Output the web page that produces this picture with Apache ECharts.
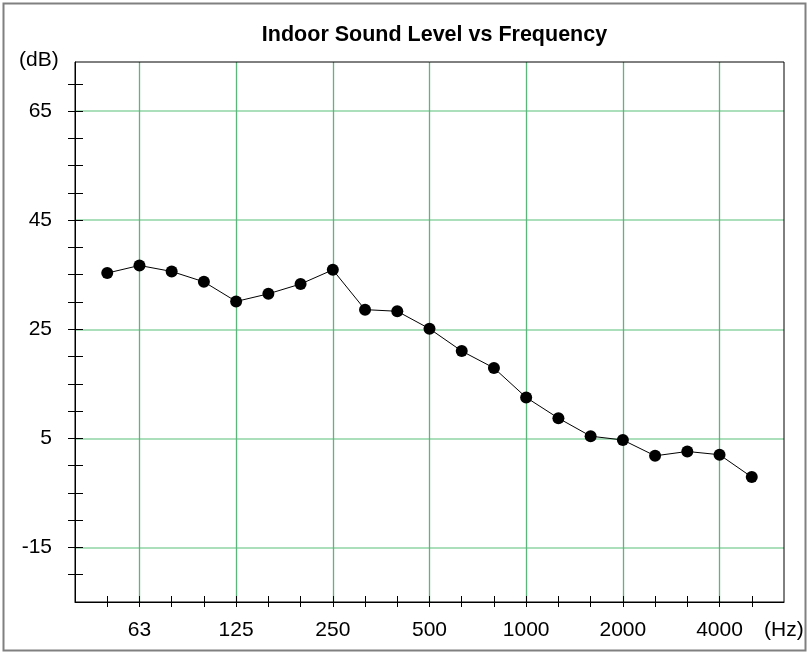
<!DOCTYPE html>
<html>
<head>
<meta charset="utf-8">
<script src="https://cdn.jsdelivr.net/npm/echarts@6/dist/echarts.min.js"></script>
<style>
  html, body { margin: 0; padding: 0; background: #fff; }
  #chart { width: 810px; height: 654px; }
</style>
</head>
<body>
<div id="chart"></div>
<script>
// One-third octave band centre frequencies (Hz)
const bands = ['50', '63', '80', '100', '125', '160', '200', '250', '315', '400', '500',
               '630', '800', '1000', '1250', '1600', '2000', '2500', '3150', '4000', '5000'];
// Measured indoor level per band (dB)
const levels = [35.3, 36.7, 35.6, 33.7, 30.1, 31.5, 33.3, 35.9, 28.6, 28.3, 25.1,
                21.0, 17.9, 12.5, 8.7, 5.4, 4.7, 1.8, 2.6, 2.0, -2.1];
// Octave bands that carry a label and a vertical grid line (every third band)
const labelledBands = ['63', '125', '250', '500', '1000', '2000', '4000'];
// Level values that carry a label and a horizontal grid line
const levelTicks = [-15, 5, 25, 45, 65];

const plot = { left: 75, top: 62, right: 784, bottom: 602 };
const xMin = -1, xMax = bands.length;      // one band of padding either side
const yMin = -25, yMax = 74, yStep = 5;
const font = '"Liberation Sans", Arial, sans-serif';
const vGridColor = '#5ab77a';
const hGridColor = '#8fd3a5';

const bandIdx = bands.map((_, i) => i);
const labelIdx = labelledBands.map(b => bands.indexOf(b));
const yTickValues = [];
for (let v = yMin + yStep; v < yMax; v += yStep) yTickValues.push(v);
const points = levels.map((v, i) => [i, v]);

// Pixel helpers for the grid boxes that carry the green grid lines
const px = v => plot.left + (v - xMin) / (xMax - xMin) * (plot.right - plot.left);
const py = v => plot.top + (yMax - v) / (yMax - yMin) * (plot.bottom - plot.top);
const vFirst = labelIdx[0], vLast = labelIdx[labelIdx.length - 1];
const hFirst = levelTicks[0], hLast = levelTicks[levelTicks.length - 1];

const hidden = { show: false };
const tickStyle = { color: '#000', width: 1 };

const chart = echarts.init(document.getElementById('chart'), null, { renderer: 'canvas' });
chart.setOption({
  animation: false,
  backgroundColor: '#fff',
  title: {
    text: 'Indoor Sound Level vs Frequency',
    left: (plot.left + plot.right) / 2, top: 19, textAlign: 'center',
    textStyle: { fontFamily: font, fontSize: 21.5, fontWeight: 'bold', color: '#000' }
  },
  graphic: [
    { type: 'rect', shape: { x: 3.5, y: 3.5, width: 802, height: 647 },
      style: { fill: null, stroke: '#808080', lineWidth: 2 } },
    { type: 'text', left: 19, top: 50,
      style: { text: '(dB)', font: '21px ' + font, fill: '#000' } },
    { type: 'text', left: 764, top: 620,
      style: { text: '(Hz)', font: '21px ' + font, fill: '#000' } }
  ],
  grid: [
    // main plot
    { left: plot.left, top: plot.top, width: plot.right - plot.left, height: plot.bottom - plot.top,
      show: true, borderColor: '#000', borderWidth: 1, z: 3 },
    // vertical grid lines at the labelled octave bands
    { left: px(vFirst), top: plot.top, width: px(vLast) - px(vFirst), height: plot.bottom - plot.top, z: 1 },
    // horizontal grid lines at the labelled levels
    { left: plot.left, top: py(hLast), width: plot.right - plot.left, height: py(hFirst) - py(hLast), z: 1 }
  ],
  xAxis: [
    {
      gridIndex: 0, type: 'value', min: xMin, max: xMax, interval: 1,
      axisLine: { show: true, onZero: false, lineStyle: { color: '#000' } },
      axisTick: { show: true, inside: false, length: 5, customValues: bandIdx, lineStyle: tickStyle },
      axisLabel: {
        customValues: labelIdx, margin: 18, color: '#000', fontFamily: font, fontSize: 21,
        formatter: v => bands[Math.round(v)]
      },
      splitLine: hidden
    },
    {
      gridIndex: 0, type: 'value', min: xMin, max: xMax, interval: 1, position: 'bottom',
      axisLine: { show: false, onZero: false },
      axisTick: { show: true, inside: true, length: 6, customValues: bandIdx, lineStyle: tickStyle },
      axisLabel: hidden,
      splitLine: hidden
    },
    {
      gridIndex: 1, type: 'value', min: 0, max: vLast - vFirst, interval: 3,
      axisLine: { show: false, onZero: false }, axisTick: hidden, axisLabel: hidden,
      splitLine: { show: true, lineStyle: { color: vGridColor, width: 1.3 } }
    },
    {
      gridIndex: 2, type: 'value', min: 0, max: 1,
      axisLine: { show: false, onZero: false }, axisTick: hidden, axisLabel: hidden, splitLine: hidden
    }
  ],
  yAxis: [
    {
      gridIndex: 0, type: 'value', min: yMin, max: yMax, interval: yStep, position: 'left',
      axisLine: { show: true, onZero: false, lineStyle: { color: '#000' } },
      axisTick: { show: true, inside: false, length: 7, customValues: yTickValues, lineStyle: tickStyle },
      axisLabel: { customValues: levelTicks, margin: 23, color: '#000', fontFamily: font, fontSize: 21 },
      splitLine: hidden
    },
    {
      gridIndex: 0, type: 'value', min: yMin, max: yMax, interval: yStep, position: 'left',
      axisLine: { show: false, onZero: false },
      axisTick: { show: true, inside: true, length: 8, customValues: yTickValues, lineStyle: tickStyle },
      axisLabel: hidden,
      splitLine: hidden
    },
    {
      gridIndex: 1, type: 'value', min: 0, max: 1,
      axisLine: { show: false, onZero: false }, axisTick: hidden, axisLabel: hidden, splitLine: hidden
    },
    {
      gridIndex: 2, type: 'value', min: hFirst, max: hLast, interval: 20,
      axisLine: { show: false, onZero: false }, axisTick: hidden, axisLabel: hidden,
      splitLine: { show: true, lineStyle: { color: hGridColor, width: 1.6 } }
    }
  ],
  series: [
    {
      type: 'line',
      xAxisIndex: 0, yAxisIndex: 0,
      data: points,
      symbol: 'circle',
      symbolSize: 12,
      itemStyle: { color: '#000' },
      lineStyle: { color: '#000', width: 1 },
      z: 5
    }
  ]
});
</script>
</body>
</html>
